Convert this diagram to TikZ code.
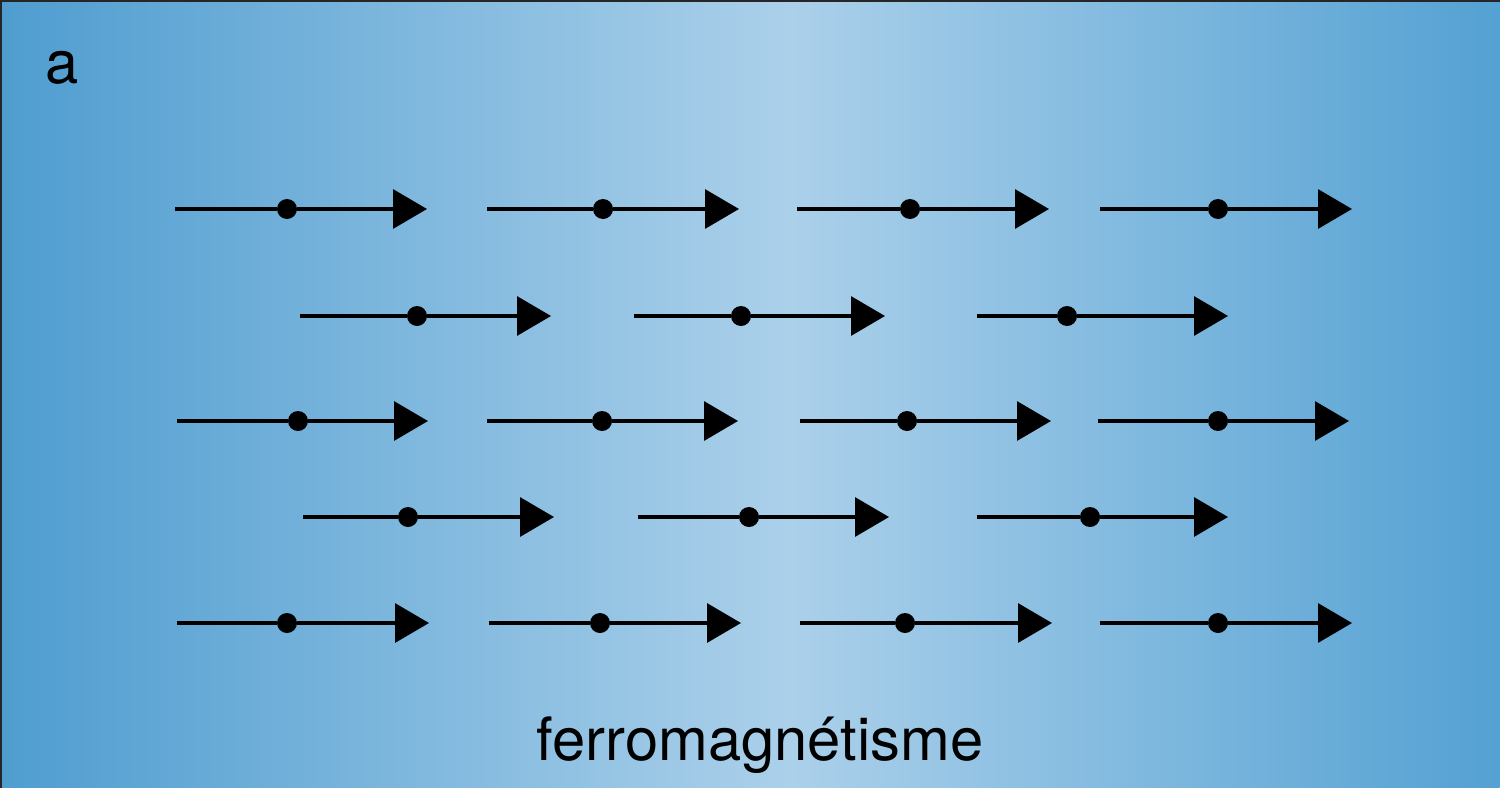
\documentclass[tikz,border=0pt]{standalone}
\usepackage{fontspec}
\setmainfont{TeX Gyre Heros}
\usetikzlibrary{arrows.meta}

\definecolor{edgeblue}{RGB}{79,157,208}
\definecolor{midblue}{RGB}{171,208,234}
\definecolor{rightblue}{RGB}{84,161,211}

\tikzset{
    spin/.style={line width=0.065cm, -{Triangle[length=0.68cm, width=0.78cm]}},
    pivot/.style={circle, fill=black, inner sep=0pt, minimum size=0.4cm},
    label/.style={font=\fontsize{34}{38}\selectfont, anchor=base, inner sep=0pt}
}

\begin{document}
\begin{tikzpicture}[x=0.02cm, y=-0.02cm]
    \useasboundingbox (0,0) rectangle (1500,788);
    % Background
    \shade[left color=edgeblue, right color=midblue] (0cm,0cm) rectangle (15.8cm,-15.76cm);
    \shade[left color=midblue, right color=rightblue] (15.8cm,0cm) rectangle (30cm,-15.76cm);
    \draw[line width=0.08cm, black!85] (0,788) -- (0,0) -- (1500,0);
    % Row 1
    \foreach \x/\p/\i in {175/287/1,487/603/2,797/910/3,1100/1218/4} {
        \coordinate (Tail1-\i) at (\x,209);
        \node[pivot] (Pivot1-\i) at (\p,209) {};
        \coordinate (Tip1-\i) at (\x+252,209);
    }
    % Row 2
    \foreach \x/\p/\i in {300/417/1,634/741/2,977/1067/3} {
        \coordinate (Tail2-\i) at (\x,316);
        \node[pivot] (Pivot2-\i) at (\p,316) {};
        \coordinate (Tip2-\i) at (\x+251,316);
    }
    % Row 3
    \foreach \x/\p/\i in {177/298/1,487/602/2,800/907/3,1098/1218/4} {
        \coordinate (Tail3-\i) at (\x,421);
        \node[pivot] (Pivot3-\i) at (\p,421) {};
        \coordinate (Tip3-\i) at (\x+251,421);
    }
    % Row 4
    \foreach \x/\p/\i in {303/408/1,638/749/2,977/1090/3} {
        \coordinate (Tail4-\i) at (\x,517);
        \node[pivot] (Pivot4-\i) at (\p,517) {};
        \coordinate (Tip4-\i) at (\x+251,517);
    }
    % Row 5
    \foreach \x/\p/\i in {177/287/1,489/600/2,800/905/3,1100/1218/4} {
        \coordinate (Tail5-\i) at (\x,623);
        \node[pivot] (Pivot5-\i) at (\p,623) {};
        \coordinate (Tip5-\i) at (\x+252,623);
    }
    % Arrows
    \foreach \r in {1,3,5} {
        \foreach \i in {1,2,3,4} {
            \draw[spin] (Tail\r-\i) -- (Pivot\r-\i) -- (Tip\r-\i);
        }
    }
    \foreach \r in {2,4} {
        \foreach \i in {1,2,3} {
            \draw[spin] (Tail\r-\i) -- (Pivot\r-\i) -- (Tip\r-\i);
        }
    }
    % Labels
    \node[label] (panel) at (62,83) {a};
    \node[label] (caption) at (760,760) {ferromagnétisme};
\end{tikzpicture}
\end{document}
